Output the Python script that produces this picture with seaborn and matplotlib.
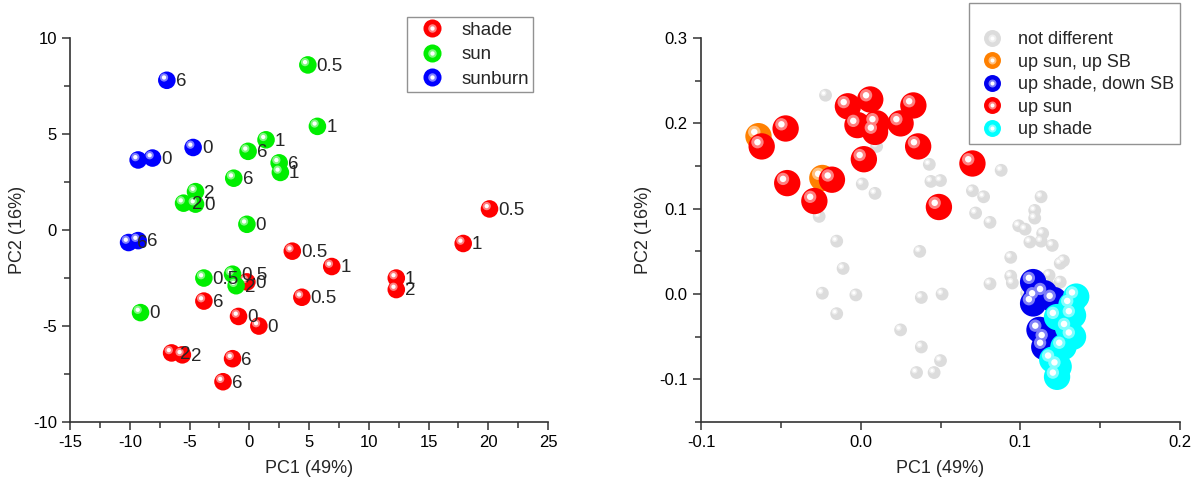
import matplotlib
matplotlib.use("Agg")
import matplotlib.pyplot as plt
import matplotlib.transforms as mtransforms
import numpy as np
import pandas as pd
import seaborn as sns
from matplotlib import ticker
from matplotlib.lines import Line2D
from matplotlib.legend_handler import HandlerTuple
from matplotlib.colors import to_rgb

# ---- left panel: samples (PC1, PC2, time label) ----
shade_x = [20.1, 17.9, 3.6, 6.9, 12.3, 12.3, 4.4, -0.2, -3.8, -0.9, 0.8, -6.5, -5.6, -1.4, -2.2]
shade_y = [1.1, -0.7, -1.1, -1.9, -2.5, -3.1, -3.5, -2.7, -3.7, -4.5, -5.0, -6.4, -6.5, -6.7, -7.9]
shade_lbl = ['0.5', '1', '0.5', '1', '1', '2', '0.5', '0', '6', '0', '0', '2', '2', '6', '6']

sun_x = [4.9, 5.7, 1.4, -0.1, 2.5, 2.6, -1.3, -4.5, -5.5, -4.5, -0.2, -3.8, -1.4, -1.1, -9.1]
sun_y = [8.6, 5.4, 4.7, 4.1, 3.5, 3.0, 2.7, 2.0, 1.4, 1.35, 0.3, -2.5, -2.3, -2.9, -4.3]
sun_lbl = ['0.5', '1', '1', '6', '6', '1', '6', '2', '2', '0', '0', '0.5', '0.5', '2', '0']

sunburn_x = [-6.9, -4.7, -9.3, -8.1, -10.1, -9.3]
sunburn_y = [7.8, 4.3, 3.65, 3.75, -0.65, -0.55]
sunburn_lbl = ['6', '0', '', '0', '6', '6']

# ---- right panel: loadings ----
nd_x = [-0.022, 0.010, 0.043, 0.044, 0.050, 0.001, 0.009, 0.070, 0.077, 0.088, 0.072, 0.081,
        -0.026, 0.099, 0.103, -0.015, 0.113, 0.109, 0.109, 0.114, 0.106, 0.113, 0.120, 0.037,
        0.094, 0.127, 0.125, -0.011, 0.094, 0.095, 0.081, 0.118, 0.125, -0.024, -0.003, 0.038,
        0.051, -0.015, 0.104, 0.117, 0.130, 0.025, 0.038, 0.050, 0.035, 0.046]
nd_y = [0.233, 0.173, 0.152, 0.132, 0.133, 0.129, 0.118, 0.121, 0.114, 0.145, 0.095, 0.084,
        0.091, 0.080, 0.076, 0.062, 0.114, 0.098, 0.089, 0.071, 0.061, 0.062, 0.057, 0.050,
        0.043, 0.039, 0.036, 0.030, 0.021, 0.013, 0.012, 0.022, 0.014, 0.001, -0.001, -0.004,
        0.000, -0.023, 0.001, 0.012, -0.010, -0.042, -0.062, -0.078, -0.092, -0.092]

upsun_upsb_x = [-0.064, -0.024]
upsun_upsb_y = [0.185, 0.136]

upshade_downsb_x = [0.108, 0.115, 0.108, 0.121, 0.110, 0.112, 0.116, 0.115]
upshade_downsb_y = [0.014, 0.001, -0.011, -0.007, -0.004, -0.042, -0.053, -0.062]

upsun_x = [-0.018, -0.062, -0.047, -0.008, 0.006, 0.033, -0.002, 0.010, 0.009, 0.025, 0.036,
           0.002, 0.070, -0.046, -0.029, 0.049]
upsun_y = [0.134, 0.173, 0.194, 0.220, 0.228, 0.221, 0.198, 0.200, 0.190, 0.200, 0.173,
           0.158, 0.153, 0.130, 0.109, 0.102]

upshade_x = [0.135, 0.132, 0.123, 0.133, 0.130, 0.133, 0.127, 0.120, 0.124, 0.123]
upshade_y = [-0.003, -0.013, -0.027, -0.025, -0.040, -0.050, -0.062, -0.077, -0.085, -0.097]


def lighter(c, f):
    r, g, b = to_rgb(c)
    return (r + (1 - r) * f, g + (1 - g) * f, b + (1 - b) * f)


def shiny_scatter(ax, x, y, color, s, z):
    # ball + two highlight layers to fake the 3D sphere look
    sns.scatterplot(x=x, y=y, color=color, s=s, edgecolor='none', linewidth=0,
                    ax=ax, zorder=z, legend=False)
    d = np.sqrt(s)
    off = mtransforms.offset_copy(ax.transData, fig=ax.figure, x=-0.16 * d, y=0.16 * d, units='points')
    ax.scatter(x, y, s=s * 0.22, color=lighter(color, 0.5), edgecolor='none', transform=off, zorder=z + 0.1)
    ax.scatter(x, y, s=s * 0.06, color='white', edgecolor='none', transform=off, zorder=z + 0.2)


def shiny_handle(color, ms):
    base = Line2D([], [], ls='', marker='o', markersize=ms, markerfacecolor=color, markeredgecolor='none')
    mid = Line2D([], [], ls='', marker='o', markersize=ms * 0.47, markerfacecolor=lighter(color, 0.5),
                 markeredgecolor='none')
    hl = Line2D([], [], ls='', marker='o', markersize=ms * 0.24, markerfacecolor='white', markeredgecolor='none')
    return (base, mid, hl)


def style_axes(ax, major_x, major_y, fmt):
    ax.xaxis.set_major_locator(ticker.MultipleLocator(major_x))
    ax.xaxis.set_minor_locator(ticker.MultipleLocator(major_x / 2))
    ax.yaxis.set_major_locator(ticker.MultipleLocator(major_y))
    ax.yaxis.set_minor_locator(ticker.MultipleLocator(major_y / 2))
    if fmt:
        ax.xaxis.set_major_formatter(ticker.FormatStrFormatter(fmt))
        ax.yaxis.set_major_formatter(ticker.FormatStrFormatter(fmt))
    ax.tick_params(which='major', direction='out', length=6, width=1.1, color='#333333',
                   labelsize=12, labelcolor='black')
    ax.tick_params(which='minor', direction='out', length=4, width=1.1, color='#333333')
    for side in ['left', 'bottom']:
        ax.spines[side].set_linewidth(1.2)
        ax.spines[side].set_color('#333333')
    sns.despine(ax=ax)
    ax.set_xlabel('PC1 (49%)', fontsize=13, labelpad=7)
    ax.set_ylabel('PC2 (16%)', fontsize=13, labelpad=5)


sns.set_style("ticks")
plt.rcParams['font.family'] = ['Liberation Sans', 'DejaVu Sans']
plt.rcParams['axes.unicode_minus'] = False

fig = plt.figure(figsize=(11.93, 4.84), dpi=100)
ax1 = fig.add_axes([0.0587, 0.128, 0.4007, 0.7934])
ax2 = fig.add_axes([0.5876, 0.128, 0.4015, 0.7934])

# left panel
groups = [('shade', shade_x, shade_y, shade_lbl, '#ff0000'),
          ('sun', sun_x, sun_y, sun_lbl, '#00ee00'),
          ('sunburn', sunburn_x, sunburn_y, sunburn_lbl, '#0000ff')]
s_left = 160
handles = []
for i, (name, gx, gy, glbl, col) in enumerate(groups):
    shiny_scatter(ax1, gx, gy, col, s_left, 3 + i)
    for xx, yy, tt in zip(gx, gy, glbl):
        ax1.annotate(tt, (xx, yy), xytext=(6.3, -1), textcoords='offset points',
                     va='center', ha='left', fontsize=13.5, zorder=10)
    handles.append(shiny_handle(col, 13))

ax1.set_xlim(-15, 25)
ax1.set_ylim(-10, 10)
style_axes(ax1, 5, 5, None)
leg1 = ax1.legend(handles, [g[0] for g in groups], handler_map={tuple: HandlerTuple(ndivide=1)},
                  loc='upper left', bbox_to_anchor=(0.3412, 0.965), bbox_transform=fig.transFigure,
                  borderaxespad=0, fancybox=False, edgecolor='#777777', fontsize=13.5,
                  handletextpad=0.46, labelspacing=0.39, borderpad=0.25, handlelength=2.17)
leg1.get_frame().set_linewidth(1.0)

# right panel
rgroups = [('not different', nd_x, nd_y, '#dcdcdc', 85),
           ('up sun, up SB', upsun_upsb_x, upsun_upsb_y, '#ff8000', 360),
           ('up shade, down SB', upshade_downsb_x, upshade_downsb_y, '#0000ee', 360),
           ('up sun', upsun_x, upsun_y, '#ff0000', 360),
           ('up shade', upshade_x, upshade_y, '#00ffff', 360)]
rhandles = []
for i, (name, gx, gy, col, sz) in enumerate(rgroups):
    shiny_scatter(ax2, gx, gy, col, sz, 3 + i)
    rhandles.append(shiny_handle(col, 12.2))

ax2.set_xlim(-0.1, 0.2)
ax2.set_ylim(-0.15, 0.3)
style_axes(ax2, 0.1, 0.1, '%.1f')
leg2 = ax2.legend(rhandles, [g[0] for g in rgroups], handler_map={tuple: HandlerTuple(ndivide=1)},
                  loc='upper left', bbox_to_anchor=(0.8122, 0.994), bbox_transform=fig.transFigure,
                  borderaxespad=0, fancybox=False, edgecolor='#777777', fontsize=13, title=' ',
                  title_fontsize=13, handletextpad=0.46, labelspacing=0.31, borderpad=0.3,
                  handlelength=1.96)
leg2.get_frame().set_linewidth(1.0)

fig.savefig('out.png', dpi=100)
